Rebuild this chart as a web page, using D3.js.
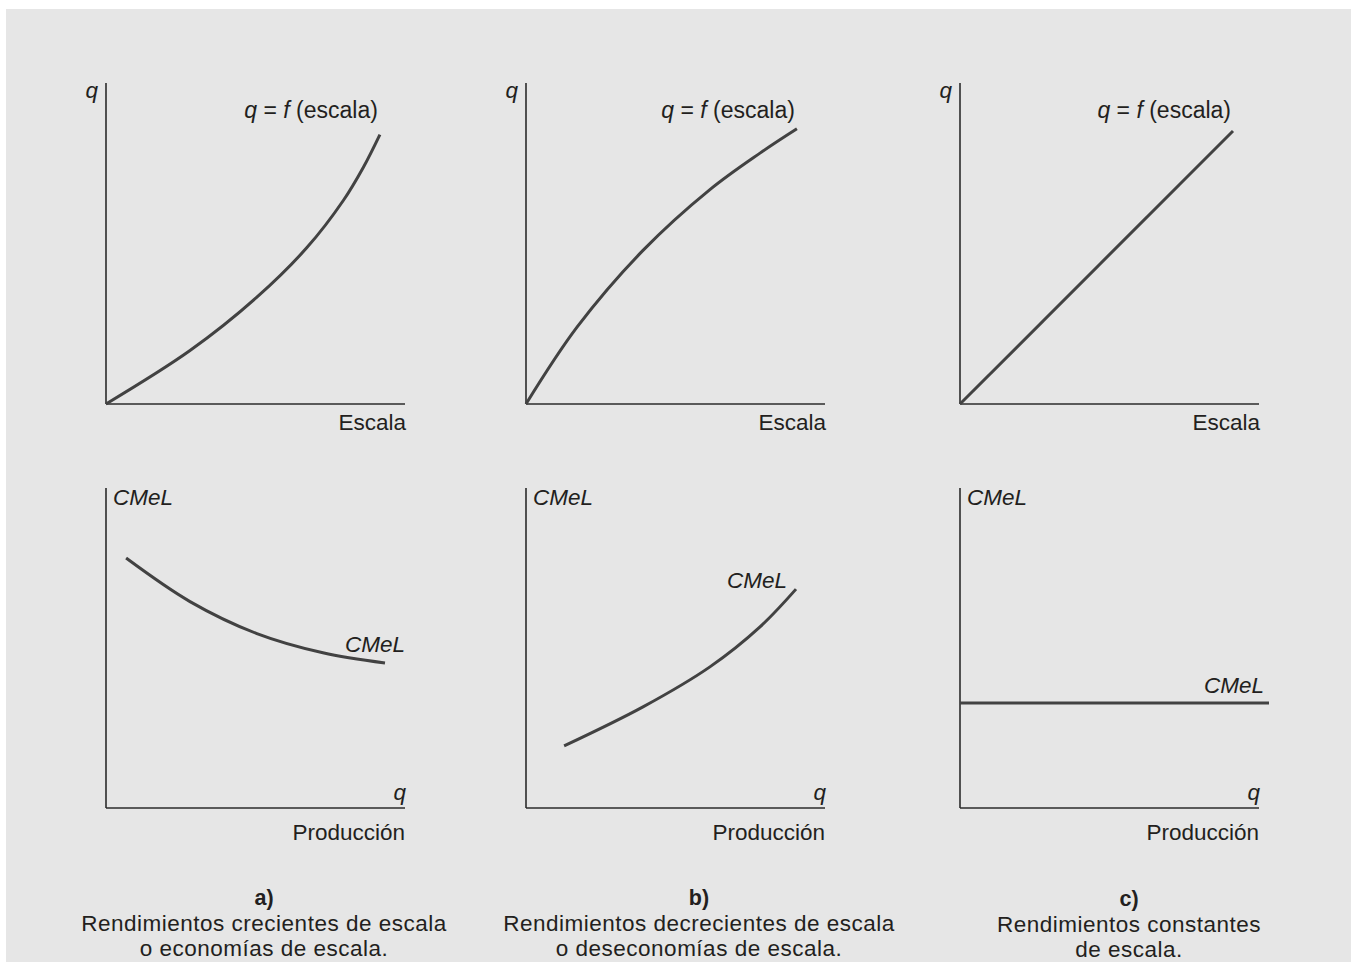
<!DOCTYPE html>
<html>
<head>
<meta charset="utf-8">
<script src="https://cdn.jsdelivr.net/npm/d3@7"></script>
<style>
  html, body { margin: 0; padding: 0; background: #ffffff; }
  svg { display: block; }
  text { font-family: "Liberation Sans", Arial, Helvetica, sans-serif; fill: #231f20; }
</style>
</head>
<body>
<script>
// ---------- DATA ----------
const panelIds = ["a", "b", "c"];
const captionTitles = ["a)", "b)", "c)"];
const captionLines = [
  ["Rendimientos crecientes de escala", "o economías de escala."],
  ["Rendimientos decrecientes de escala", "o deseconomías de escala."],
  ["Rendimientos constantes", "de escala."]
];
// Top row: q = f(escala)
const topX_a = [0, 2.8, 5.02, 6.69, 7.91, 8.58, 9.13];
const topY_a = [0, 1.67, 3.33, 4.88, 6.36, 7.40, 8.42];
const topX_b = [0, 1.7, 3.9, 6.13, 7.8, 9.03];
const topY_b = [0, 2.4, 4.8, 6.7, 7.84, 8.6];
const topX_c = [0, 9.1];
const topY_c = [0, 8.53];
// Bottom row: CMeL
const botX_a = [0.67, 2.8, 5.03, 7.23, 9.3];
const botY_a = [7.81, 6.45, 5.45, 4.85, 4.53];
const botX_b = [1.27, 3.9, 6.13, 7.8, 9.0];
const botY_b = [1.94, 3.16, 4.41, 5.66, 6.84];
const botX_c = [0, 10.3];
const botY_c = [3.28, 3.28];

const topXs = [topX_a, topX_b, topX_c];
const topYs = [topY_a, topY_b, topY_c];
const botXs = [botX_a, botX_b, botX_c];
const botYs = [botY_a, botY_b, botY_c];

const topYLabel = "q";
const topXLabel = "Escala";
const botYLabel = "CMeL";
const botXLabel = "Producción";
const botXSym = "q";
const botCurveLabel = "CMeL";

// ---------- LAYOUT ----------
const W = 1351, H = 962;
const svg = d3.select("body").append("svg").attr("width", W).attr("height", H);
svg.append("rect").attr("x", 6).attr("y", 9).attr("width", W - 6).attr("height", H - 9).attr("fill", "#e6e6e6");

const originsX = [106, 526, 960];
const axisLen = 299;
const topO = 404, topTop = 83;
const botO = 808, botTop = 488;
const unit = 32;
const curveColor = "#424242";
const axisColor = "#2b2b2b";
const fs = 22.5;

const topLabelBaseline = 118;
const botLabelBaselines = [652, 588, 693];
const botLabelRight = [405, 787, 1264];
const captionCx = [264, 699, 1129];
const captionBase = [[905, 931, 956], [905, 931, 956], [906, 932, 957]];

panelIds.forEach((id, i) => {
  const ox = originsX[i];
  const x = d3.scaleLinear().domain([0, 10]).range([ox, ox + 300]);
  const yT = d3.scaleLinear().domain([0, 10]).range([topO, topO - 10 * unit]);
  const yB = d3.scaleLinear().domain([0, 10]).range([botO, botO - 10 * unit]);

  const g = svg.append("g");
  g.append("line").attr("x1", ox).attr("x2", ox).attr("y1", topTop).attr("y2", topO)
    .attr("stroke", axisColor).attr("stroke-width", 1.6);
  g.append("line").attr("x1", ox).attr("x2", ox + axisLen).attr("y1", topO).attr("y2", topO)
    .attr("stroke", axisColor).attr("stroke-width", 1.6);
  const topPts = topXs[i].map((v, k) => [v, topYs[i][k]]);
  const lineT = d3.line().x(d => x(d[0])).y(d => yT(d[1])).curve(d3.curveCatmullRom.alpha(0.5));
  g.append("path").attr("d", lineT(topPts)).attr("fill", "none")
    .attr("stroke", curveColor).attr("stroke-width", 3);
  g.append("text").attr("x", ox - 8).attr("y", 98).attr("text-anchor", "end")
    .attr("font-style", "italic").attr("font-size", fs).text(topYLabel);
  const endX = x(topPts[topPts.length - 1][0]);
  const lbl = g.append("text").attr("x", endX - 2).attr("y", topLabelBaseline)
    .attr("text-anchor", "end").attr("font-size", 23).attr("xml:space", "preserve")
    .style("white-space", "pre");
  lbl.append("tspan").attr("font-style", "italic").text("q");
  lbl.append("tspan").text(" = ");
  lbl.append("tspan").attr("font-style", "italic").text("f");
  lbl.append("tspan").text(" (escala)");
  g.append("text").attr("x", ox + axisLen + 1).attr("y", 430).attr("text-anchor", "end")
    .attr("font-size", fs).text(topXLabel);

  g.append("line").attr("x1", ox).attr("x2", ox).attr("y1", botTop).attr("y2", botO)
    .attr("stroke", axisColor).attr("stroke-width", 1.6);
  g.append("line").attr("x1", ox).attr("x2", ox + axisLen).attr("y1", botO).attr("y2", botO)
    .attr("stroke", axisColor).attr("stroke-width", 1.6);
  const botPts = botXs[i].map((v, k) => [v, botYs[i][k]]);
  const lineB = d3.line().x(d => x(d[0])).y(d => yB(d[1])).curve(d3.curveCatmullRom.alpha(0.5));
  g.append("path").attr("d", lineB(botPts)).attr("fill", "none")
    .attr("stroke", curveColor).attr("stroke-width", 3);
  g.append("text").attr("x", ox + 7).attr("y", 505).attr("font-style", "italic")
    .attr("font-size", fs).text(botYLabel);
  g.append("text").attr("x", botLabelRight[i]).attr("y", botLabelBaselines[i])
    .attr("text-anchor", "end").attr("font-style", "italic").attr("font-size", fs).text(botCurveLabel);
  g.append("text").attr("x", ox + axisLen + 1).attr("y", 800).attr("text-anchor", "end")
    .attr("font-style", "italic").attr("font-size", fs).text(botXSym);
  g.append("text").attr("x", ox + axisLen).attr("y", 840).attr("text-anchor", "end")
    .attr("font-size", fs).text(botXLabel);

  g.append("text").attr("x", captionCx[i]).attr("y", captionBase[i][0]).attr("text-anchor", "middle")
    .attr("font-weight", "bold").attr("font-size", 21.5).text(captionTitles[i]);
  captionLines[i].forEach((t, k) => {
    g.append("text").attr("x", captionCx[i]).attr("y", captionBase[i][k + 1]).attr("text-anchor", "middle")
      .attr("font-size", 22.5).attr("letter-spacing", 0.5).text(t);
  });
});
</script>
</body>
</html>
